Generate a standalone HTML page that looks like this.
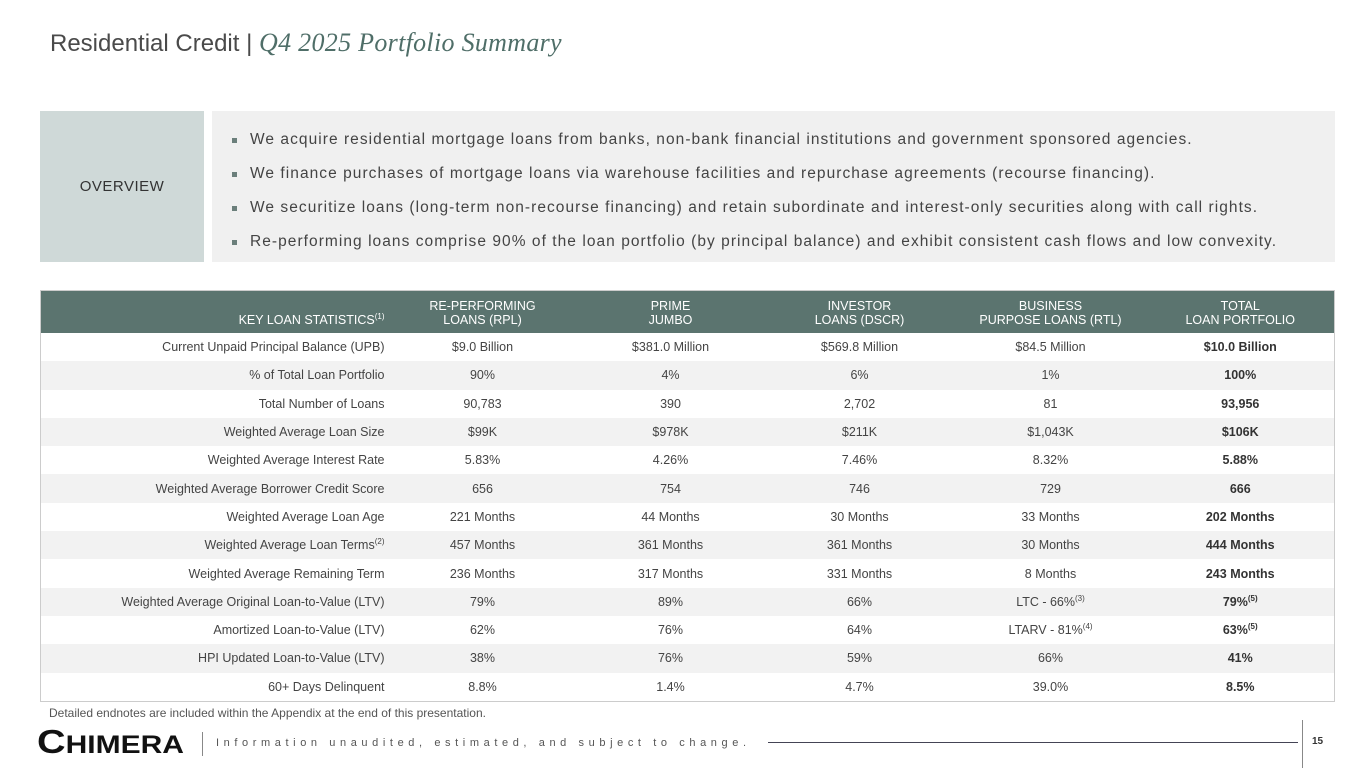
<!DOCTYPE html>
<html><head><meta charset="utf-8"><style>
body{margin:0;width:1365px;height:768px;background:#fff;font-family:"Liberation Sans",sans-serif;position:relative;overflow:hidden;color:#444}
.t{position:absolute;left:50px;top:28px;font-size:24px;color:#4a4a4a}
.t i{font-family:"Liberation Serif",serif;color:#4f6e68;font-size:26px;letter-spacing:0.3px}
.ovl{position:absolute;left:40px;top:111px;width:164px;height:151px;background:#cfd9d8;font-size:15px;color:#333;display:flex;align-items:center;justify-content:center;letter-spacing:0.5px}
.ovr{position:absolute;left:212px;top:111px;width:1123px;height:151px;background:#f0f0f0}
.b{position:absolute;left:20px;font-size:15.5px;color:#444;letter-spacing:1.05px;white-space:nowrap}
.b:before{content:"";position:absolute;left:0;top:7px;width:5px;height:5px;background:#6b7f7b}
.b span{margin-left:18px}
table{position:absolute;left:40px;top:290px;width:1295px;border-collapse:collapse;font-size:12.5px;color:#444;border:1px solid #ccc}
th{background:#5b746f;color:#fff;font-weight:normal;height:36px;padding:0;line-height:14px;vertical-align:bottom;padding-bottom:6px}
td{height:28.3px;padding:0;text-align:center;line-height:14px}
td:first-child,th:first-child{text-align:right;padding-right:4px}
tr:nth-child(odd) td{background:#f2f2f2}
td:last-child{font-weight:bold;color:#333}
sup{font-size:8px;line-height:0}
.fn{position:absolute;left:49px;top:706px;font-size:12px;color:#555}
.logo{position:absolute;left:37px;top:723px;font-size:33px;font-weight:bold;color:#111;transform:scaleX(1.2);transform-origin:left}
.logo small{font-size:25px}
.sep{position:absolute;left:202px;top:732px;width:1px;height:24px;background:#888}
.tag{position:absolute;left:216px;top:737px;font-size:11px;letter-spacing:4.6px;color:#555;white-space:nowrap}
.line{position:absolute;left:768px;top:742px;width:530px;height:1px;background:#445}
.vl{position:absolute;left:1302px;top:720px;width:1px;height:48px;background:#888}
.pg{position:absolute;left:1312px;top:736px;font-size:10px;font-weight:bold;color:#333}
</style></head><body>
<div class="t">Residential Credit | <i>Q4 2025 Portfolio Summary</i></div>
<div class="ovl">OVERVIEW</div>
<div class="ovr">
<div class="b" style="top:20px"><span>We acquire residential mortgage loans from banks, non-bank financial institutions and government sponsored agencies.</span></div>
<div class="b" style="top:54px"><span>We finance purchases of mortgage loans via warehouse facilities and repurchase agreements (recourse financing).</span></div>
<div class="b" style="top:88px"><span>We securitize loans (long-term non-recourse financing) and retain subordinate and interest-only securities along with call rights.</span></div>
<div class="b" style="top:122px"><span>Re-performing loans comprise 90% of the loan portfolio (by principal balance) and exhibit consistent cash flows and low convexity.</span></div>
</div>
<table>
<colgroup><col style="width:348px"><col style="width:188px"><col style="width:188px"><col style="width:190px"><col style="width:192px"><col></colgroup>
<tr><th>KEY LOAN STATISTICS<sup>(1)</sup></th><th>RE-PERFORMING<br>LOANS (RPL)</th><th>PRIME<br>JUMBO</th><th>INVESTOR<br>LOANS (DSCR)</th><th>BUSINESS<br>PURPOSE LOANS (RTL)</th><th>TOTAL<br>LOAN PORTFOLIO</th></tr>
<tr><td>Current Unpaid Principal Balance (UPB)</td><td>$9.0 Billion</td><td>$381.0 Million</td><td>$569.8 Million</td><td>$84.5 Million</td><td>$10.0 Billion</td></tr>
<tr><td>% of Total Loan Portfolio</td><td>90%</td><td>4%</td><td>6%</td><td>1%</td><td>100%</td></tr>
<tr><td>Total Number of Loans</td><td>90,783</td><td>390</td><td>2,702</td><td>81</td><td>93,956</td></tr>
<tr><td>Weighted Average Loan Size</td><td>$99K</td><td>$978K</td><td>$211K</td><td>$1,043K</td><td>$106K</td></tr>
<tr><td>Weighted Average Interest Rate</td><td>5.83%</td><td>4.26%</td><td>7.46%</td><td>8.32%</td><td>5.88%</td></tr>
<tr><td>Weighted Average Borrower Credit Score</td><td>656</td><td>754</td><td>746</td><td>729</td><td>666</td></tr>
<tr><td>Weighted Average Loan Age</td><td>221 Months</td><td>44 Months</td><td>30 Months</td><td>33 Months</td><td>202 Months</td></tr>
<tr><td>Weighted Average Loan Terms<sup>(2)</sup></td><td>457 Months</td><td>361 Months</td><td>361 Months</td><td>30 Months</td><td>444 Months</td></tr>
<tr><td>Weighted Average Remaining Term</td><td>236 Months</td><td>317 Months</td><td>331 Months</td><td>8 Months</td><td>243 Months</td></tr>
<tr><td>Weighted Average Original Loan-to-Value (LTV)</td><td>79%</td><td>89%</td><td>66%</td><td>LTC - 66%<sup>(3)</sup></td><td>79%<sup>(5)</sup></td></tr>
<tr><td>Amortized Loan-to-Value (LTV)</td><td>62%</td><td>76%</td><td>64%</td><td>LTARV - 81%<sup>(4)</sup></td><td>63%<sup>(5)</sup></td></tr>
<tr><td>HPI Updated Loan-to-Value (LTV)</td><td>38%</td><td>76%</td><td>59%</td><td>66%</td><td>41%</td></tr>
<tr><td>60+ Days Delinquent</td><td>8.8%</td><td>1.4%</td><td>4.7%</td><td>39.0%</td><td>8.5%</td></tr>
</table>
<div class="fn">Detailed endnotes are included within the Appendix at the end of this presentation.</div>
<div class="logo">C<small>HIMERA</small></div>
<div class="sep"></div>
<div class="tag">Information unaudited, estimated, and subject to change.</div>
<div class="line"></div>
<div class="vl"></div>
<div class="pg">15</div>
</body></html>
